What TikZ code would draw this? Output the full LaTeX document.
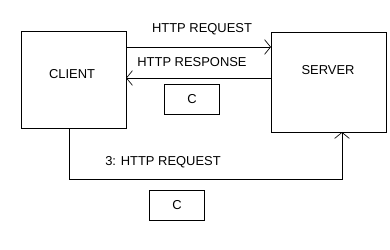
\documentclass[tikz,border=0pt]{standalone}
\usepackage{fontspec}
\setmainfont{Liberation Sans}
\usetikzlibrary{arrows.meta}
\begin{document}
\begin{tikzpicture}[x=0.75pt,y=-0.75pt,
  box/.style={draw,line width=0.75pt,minimum width=0,inner sep=0},
  lbl/.style={font=\fontsize{9.7pt}{11pt}\selectfont,inner sep=0},
  conn/.style={line width=0.75pt,-{Straight Barb[length=4.5pt,width=11pt,line width=0.5pt]}}]
\useasboundingbox (0,0) rectangle (390,250);
\node[box,minimum width=105*0.75pt,minimum height=97*0.75pt,anchor=north west] (client) at (21,31) {};
\node[box,minimum width=115*0.75pt,minimum height=100*0.75pt,anchor=north west] (server) at (271,32) {};
\node[lbl] (clientt) at (72,74) {CLIENT};
\node[lbl] (servert) at (328,70) {SERVER};
\node[box,minimum width=55*0.75pt,minimum height=30*0.75pt,anchor=north west] (c1) at (164,84) {};
\node[lbl] (c1t) at (c1.center) {C};
\node[box,minimum width=55*0.75pt,minimum height=30*0.75pt,anchor=north west] (c2) at (149,190) {};
\node[lbl] (c2t) at (c2.center) {C};
\coordinate (rq1) at (126,47);
\coordinate (rq2) at (271,47);
\coordinate (rs1) at (271,78);
\coordinate (rs2) at (126,78);
\draw[conn] (rq1) -- (rq2);
\draw[conn] (rs1) -- (rs2);
\node[lbl] (rql) at (202,29) {HTTP REQUEST};
\node[lbl] (rsl) at (192,62) {HTTP RESPONSE};
\coordinate (b1) at (69,128);
\coordinate (b2) at (69,179);
\coordinate (b3) at (342,179);
\coordinate (b4) at (342,132);
\draw[conn] (b1) -- (b2) -- (b3) -- (b4);
\node[lbl] (bl) at (163,162) {3: HTTP REQUEST};
\end{tikzpicture}
\end{document}
